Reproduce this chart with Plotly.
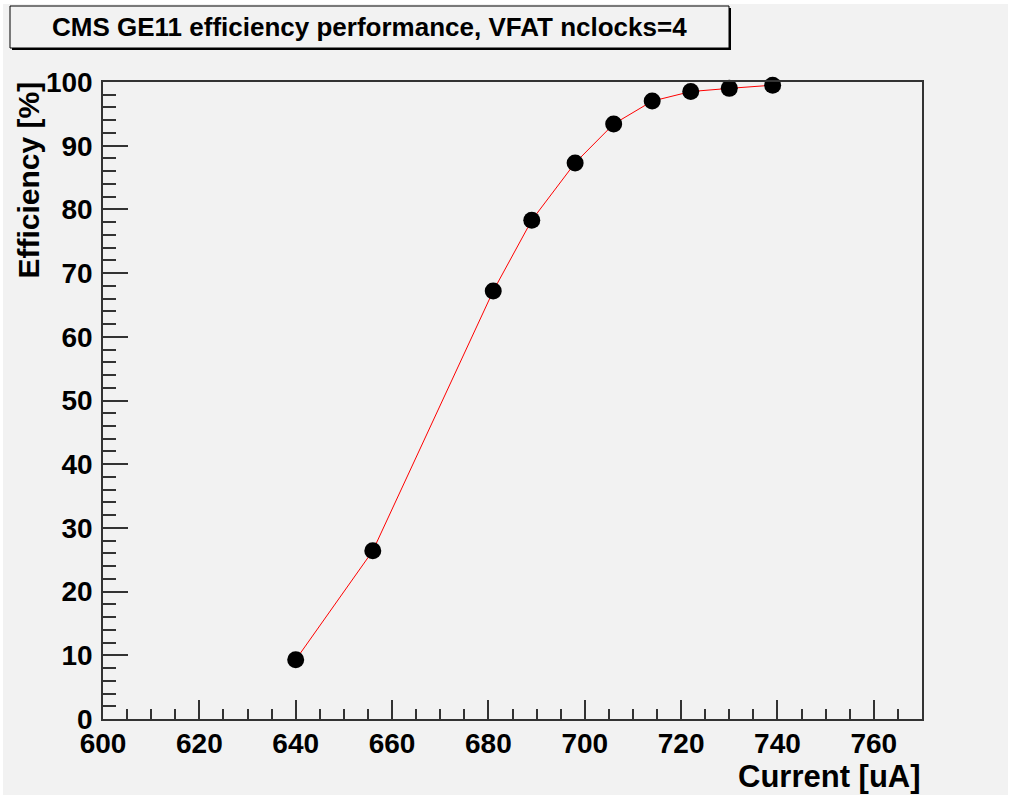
import plotly.graph_objects as go

current = [640, 656, 681, 689, 698, 706, 714, 722, 730, 739]
efficiency = [9.3, 26.4, 67.2, 78.3, 87.3, 93.4, 97.0, 98.5, 99.0, 99.5]

title_text = "CMS GE11 efficiency performance, VFAT nclocks=4"
x_title = "Current [uA]"
y_title = "Efficiency [%]"

W, H = 1011, 795
L, R, T, B = 103, 922, 82, 719
BG = "#f2f2f2"
FONT = "Liberation Sans"


def px(x):
    return (x - L) / (R - L)


def py(y):
    return (B - y) / (B - T)


fig = go.Figure()
fig.add_trace(go.Scatter(
    x=current, y=efficiency, mode="lines+markers",
    line=dict(color="#ff0000", width=1),
    marker=dict(color="black", size=17, line=dict(width=0)),
    showlegend=False, cliponaxis=False,
))

axis_common = dict(
    showgrid=False, zeroline=False, showline=True, mirror=True,
    linecolor="#333333", linewidth=1.5, ticks="inside", tickcolor="#333333",
    tickwidth=1.5, tickfont=dict(family=FONT, size=28, color="black", weight="bold"),
)

fig.update_layout(
    width=W, height=H,
    margin=dict(l=L, r=W - R, t=T, b=H - B, pad=0),
    paper_bgcolor="white", plot_bgcolor=BG,
    xaxis=dict(range=[600, 770], dtick=20, tick0=600, ticklen=19,
               minor=dict(dtick=5, ticklen=10, ticks="inside", tickcolor="#333333", tickwidth=1.5),
               ticklabelstandoff=-1, **axis_common),
    yaxis=dict(range=[0, 100], dtick=10, tick0=0, ticklen=25,
               minor=dict(dtick=2, ticklen=13, ticks="inside", tickcolor="#333333", tickwidth=1.5),
               ticklabelstandoff=3, **axis_common),
    shapes=[
        dict(type="rect", xref="paper", yref="paper", layer="below",
             x0=px(3), x1=px(1008), y0=py(4), y1=py(795),
             fillcolor=BG, line=dict(width=0)),
        dict(type="rect", xref="paper", yref="paper",
             x0=px(12), x1=px(731), y0=py(8), y1=py(50),
             fillcolor="black", line=dict(width=0)),
        dict(type="rect", xref="paper", yref="paper",
             x0=px(10), x1=px(729), y0=py(6), y1=py(48),
             fillcolor=BG, line=dict(color="black", width=1)),
    ],
    annotations=[
        dict(text=title_text, xref="paper", yref="paper", x=px(369), y=py(27),
             xanchor="center", yanchor="middle", showarrow=False,
             font=dict(family=FONT, size=26, color="black", weight="bold")),
        dict(text=x_title, xref="paper", yref="paper", x=px(923), y=py(776),
             xanchor="right", yanchor="middle", showarrow=False,
             font=dict(family=FONT, size=31, color="black", weight="bold")),
        dict(text=y_title, xref="paper", yref="paper", x=px(28), y=py(80),
             xanchor="center", yanchor="top", textangle=-90, showarrow=False,
             font=dict(family=FONT, size=30, color="black", weight="bold")),
    ],
)

fig.write_html("out.html")
